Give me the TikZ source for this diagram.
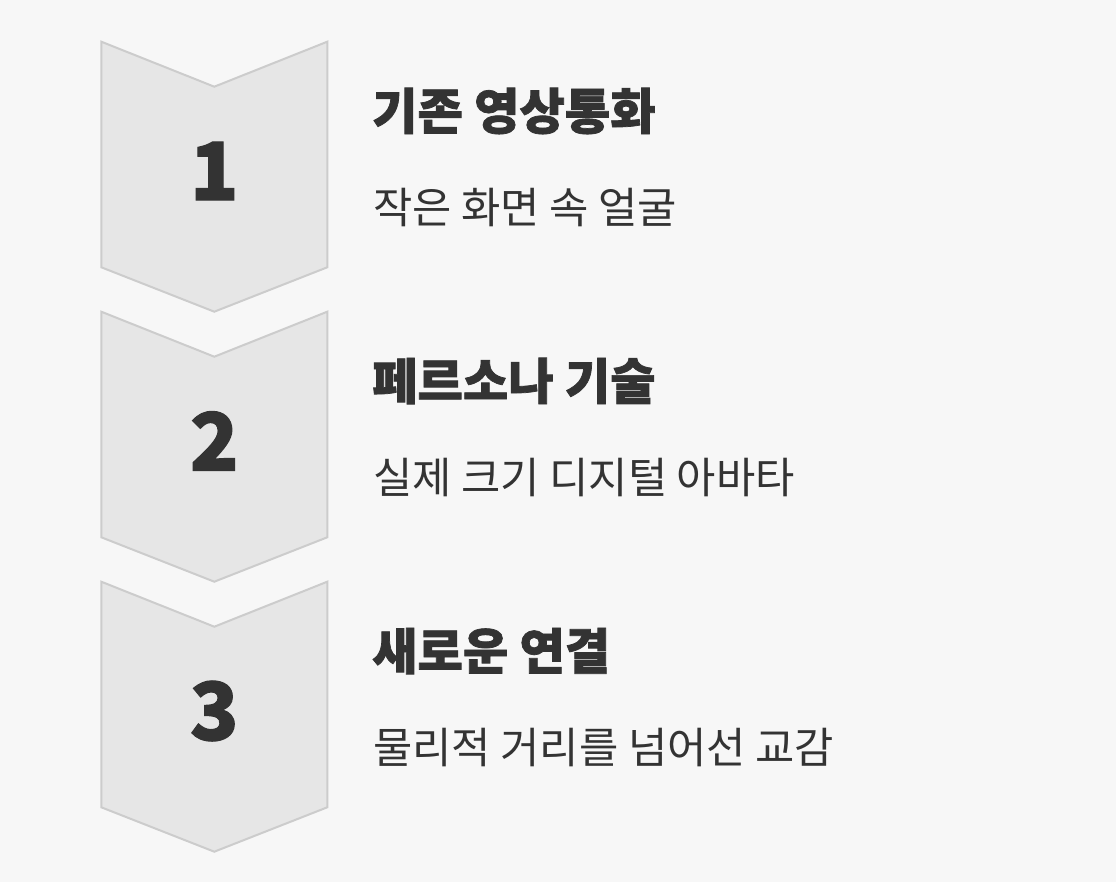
\documentclass[tikz,border=0pt]{standalone}
\usepackage{fontspec}
\setmainfont{Noto Sans CJK KR}
\newfontfamily\kr{Noto Sans CJK KR}
\newfontfamily\krheavy{Noto Sans CJK KR Black}[FakeBold=1.5]
\definecolor{pagebg}{HTML}{F7F7F7}
\definecolor{chevfill}{HTML}{E6E6E6}
\definecolor{chevline}{HTML}{CCCCCC}
\definecolor{ink}{HTML}{333333}
\tikzset{
  chevron/.style={fill=chevfill,draw=chevline,line width=2pt,line join=miter},
  stepnum/.style={inner sep=0pt,text=ink,font=\krheavy\fontsize{80}{80}\selectfont},
  steptitle/.style={inner sep=0pt,anchor=west,text=ink,font=\krheavy\fontsize{49.3}{49.3}\selectfont},
  stepsub/.style={inner sep=0pt,anchor=west,text=ink,font=\kr\fontsize{42.7}{42.7}\selectfont}
}
\begin{document}
\begin{tikzpicture}[x=1pt,y=-1pt]
\fill[pagebg] (0,0) rectangle (1116,882);
\useasboundingbox (0,0) rectangle (1116,882);
% chevrons
\draw[chevron] (101.3,41.7) -- (214.3,86.7) -- (327.3,41.7) -- (327.3,267.3) -- (214.3,311.7) -- (101.3,267.3) -- cycle;
\draw[chevron] (101.3,311.7) -- (214.3,356.7) -- (327.3,311.7) -- (327.3,537.3) -- (214.3,581.7) -- (101.3,537.3) -- cycle;
\draw[chevron] (101.3,581.7) -- (214.3,626.7) -- (327.3,581.7) -- (327.3,807.3) -- (214.3,851.7) -- (101.3,807.3) -- cycle;
% numbers
\node[stepnum] (n1) at (214.3,171) {1};
\node[stepnum] (n2) at (214.3,441) {2};
\node[stepnum] (n3) at (214.3,711) {3};
% texts
\node[steptitle] (t1) at (372,111) {기존 영상통화};
\node[stepsub] (s1) at (373,207.5) {작은 화면 속 얼굴};
\node[steptitle] (t2) at (372,381) {페르소나 기술};
\node[stepsub] (s2) at (373,477.5) {실제 크기 디지털 아바타};
\node[steptitle] (t3) at (372,651) {새로운 연결};
\node[stepsub] (s3) at (373,747.5) {물리적 거리를 넘어선 교감};
\end{tikzpicture}
\end{document}
